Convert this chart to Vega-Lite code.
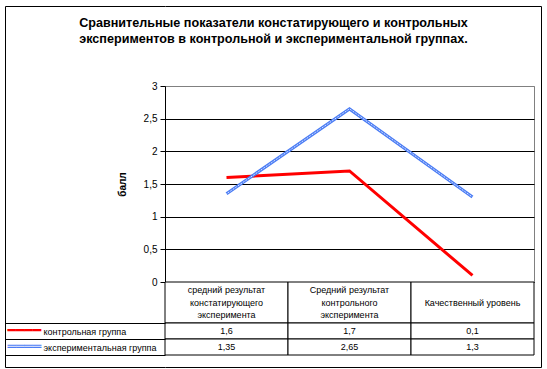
{
  "$schema": "https://vega.github.io/schema/vega-lite/v6.json",
  "background": "white",
  "padding": {"left": 4, "top": 3, "right": 6, "bottom": 4},
  "config": {
    "font": "Liberation Sans",
    "locale": {"number": {"decimal": ",", "thousands": " ", "grouping": [3], "currency": ["", ""]}}
  },
  "datasets": {
    "values": [
      {"cat": "средний результат\nконстатирующего\nэксперимента", "group": "контрольная группа", "value": 1.6},
      {"cat": "Средний результат\nконтрольного\nэксперимента", "group": "контрольная группа", "value": 1.7},
      {"cat": "Качественный уровень", "group": "контрольная группа", "value": 0.1},
      {"cat": "средний результат\nконстатирующего\nэксперимента", "group": "экспериментальная группа", "value": 1.35},
      {"cat": "Средний результат\nконтрольного\nэксперимента", "group": "экспериментальная группа", "value": 2.65},
      {"cat": "Качественный уровень", "group": "экспериментальная группа", "value": 1.3}
    ],
    "cats": [
      {"cat": "средний результат\nконстатирующего\nэксперимента"},
      {"cat": "Средний результат\nконтрольного\nэксперимента"},
      {"cat": "Качественный уровень"}
    ],
    "frame": [{"k": 0}, {"k": 1}]
  },
  "align": "none",
  "bounds": "full",
  "spacing": -354,
  "resolve": {"scale": {"x": "independent", "y": "independent"}},
  "vconcat": [
    {
      "width": 376,
      "height": 361,
      "view": {"stroke": null},
      "data": {"name": "frame"},
      "resolve": {"axis": {"x": "independent", "y": "independent"}},
      "layer": [
        {
          "mark": {"type": "point", "opacity": 0},
          "encoding": {
            "x": {"field": "k", "type": "quantitative", "scale": {"domain": [0, 1], "nice": false},
              "axis": {"orient": "bottom", "title": null, "labels": false, "ticks": false, "grid": false, "domain": true, "domainColor": "black"}},
            "y": {"field": "k", "type": "quantitative", "scale": {"domain": [0, 1], "nice": false},
              "axis": {"orient": "left", "title": null, "labels": false, "grid": false, "offset": 160,
                "domain": true, "domainColor": "black", "ticks": true, "values": [0, 1], "tickSize": -160, "tickColor": "black"}}
          }
        },
        {
          "mark": {"type": "point", "opacity": 0},
          "encoding": {
            "x": {"field": "k", "type": "quantitative",
              "axis": {"orient": "top", "title": null, "labels": false, "ticks": false, "grid": false, "domain": true, "domainColor": "black"}},
            "y": {"field": "k", "type": "quantitative",
              "axis": {"orient": "right", "title": null, "labels": false, "ticks": false, "grid": false, "domain": true, "domainColor": "black"}}
          }
        }
      ]
    },
    {
      "title": {
        "text": ["Сравнительные показатели  констатирующего и контрольных", "экспериментов в контрольной и экспериментальной группах."],
        "font": "Liberation Sans", "fontSize": 12.6, "fontWeight": "bold", "color": "black",
        "lineHeight": 16, "anchor": "middle", "frame": "bounds", "offset": 35, "dx": 4
      },
      "spacing": 0,
      "bounds": "flush",
      "resolve": {"scale": {"x": "independent", "y": "independent"}},
      "vconcat": [
        {
          "width": 369,
          "height": 196,
          "view": {"stroke": "#808080"},
          "data": {"name": "values"},
          "encoding": {
            "x": {"field": "cat", "type": "nominal", "sort": null, "scale": {"type": "point", "padding": 0.5}, "axis": null},
            "y": {
              "field": "value", "type": "quantitative",
              "scale": {"domain": [0, 3], "nice": false, "zero": true},
              "axis": {
                "values": [0, 0.5, 1, 1.5, 2, 2.5, 3], "format": "~g",
                "grid": true, "gridColor": {"condition": {"test": "datum.value == 3", "value": "#808080"}, "value": "black"}, "gridOpacity": 1,
                "domainColor": "black", "tickColor": "black", "tickSize": 5,
                "labelFont": "Liberation Sans", "labelFontSize": 10, "labelColor": "black", "labelPadding": 3,
                "title": "балл", "titleFont": "Liberation Sans", "titleFontSize": 10, "titleFontWeight": "bold", "titleColor": "black", "titlePadding": 16
              }
            }
          },
          "layer": [
            {
              "transform": [{"filter": "datum.group == 'контрольная группа'"}],
              "mark": {"type": "line", "color": "#ff0000", "strokeWidth": 3}
            },
            {
              "transform": [{"filter": "datum.group == 'экспериментальная группа'"}],
              "mark": {"type": "line", "color": "#4a7cf5", "strokeWidth": 3.2}
            },
            {
              "transform": [{"filter": "datum.group == 'экспериментальная группа'"}],
              "mark": {"type": "line", "color": "white", "strokeWidth": 1, "strokeDash": [1, 1]}
            }
          ]
        },
        {
          "width": 369,
          "height": 41,
          "view": {"stroke": null},
          "data": {"name": "cats"},
          "encoding": {
            "x": {"field": "cat", "type": "nominal", "sort": null, "scale": {"type": "band", "paddingInner": 0, "paddingOuter": 0}, "axis": null}
          },
          "layer": [
            {"mark": {"type": "rect", "fill": "white", "stroke": "black", "strokeWidth": 1}},
            {
              "mark": {
                "type": "text", "lineBreak": "\n", "font": "Liberation Sans", "fontSize": 9, "lineHeight": 12.5, "color": "black",
                "dy": {"expr": "-(length(split(datum.cat, '\\n')) - 1) * 6.25"}
              },
              "encoding": {"text": {"field": "cat"}}
            }
          ]
        },
        {
          "width": 369,
          "height": 32,
          "view": {"stroke": null},
          "data": {"name": "values"},
          "encoding": {
            "x": {"field": "cat", "type": "nominal", "sort": null, "scale": {"type": "band", "paddingInner": 0, "paddingOuter": 0}, "axis": null}
          },
          "resolve": {"axis": {"y": "independent"}},
          "layer": [
            {
              "mark": {"type": "rect", "fill": "white", "stroke": "black", "strokeWidth": 1},
              "encoding": {
                "y": {
                  "field": "group", "type": "nominal", "sort": ["контрольная группа", "экспериментальная группа"],
                  "scale": {"type": "band", "paddingInner": 0, "paddingOuter": 0},
                  "axis": {
                    "orient": "left", "title": null, "domain": false,
                    "ticks": true, "tickBand": "extent", "tickSize": 160, "tickColor": "black", "tickWidth": 1,
                    "labelAlign": "left", "labelBaseline": "middle", "labelPadding": -38,
                    "labelFont": "Liberation Sans", "labelFontSize": 9, "labelColor": "black"
                  }
                }
              }
            },
            {
              "mark": {"type": "text", "font": "Liberation Sans", "fontSize": 9, "color": "black"},
              "encoding": {
                "y": {
                  "field": "group", "type": "nominal", "sort": ["контрольная группа", "экспериментальная группа"],
                  "scale": {"type": "band", "paddingInner": 0, "paddingOuter": 0},
                  "axis": {
                    "orient": "left", "title": null, "offset": 160,
                    "domain": true, "domainColor": "black", "ticks": false,
                    "labelExpr": "datum.value == 'контрольная группа' ? '━━━━' : '════'",
                    "labelColor": {"condition": {"test": "datum.value == 'контрольная группа'", "value": "#ff0000"}, "value": "#4a7cf5"},
                    "labelAlign": "left", "labelBaseline": "middle", "labelPadding": -2,
                    "labelFont": "DejaVu Sans Mono", "labelFontSize": 14
                  }
                },
                "text": {"field": "value", "type": "quantitative", "format": "~g"}
              }
            }
          ]
        }
      ]
    }
  ]
}
